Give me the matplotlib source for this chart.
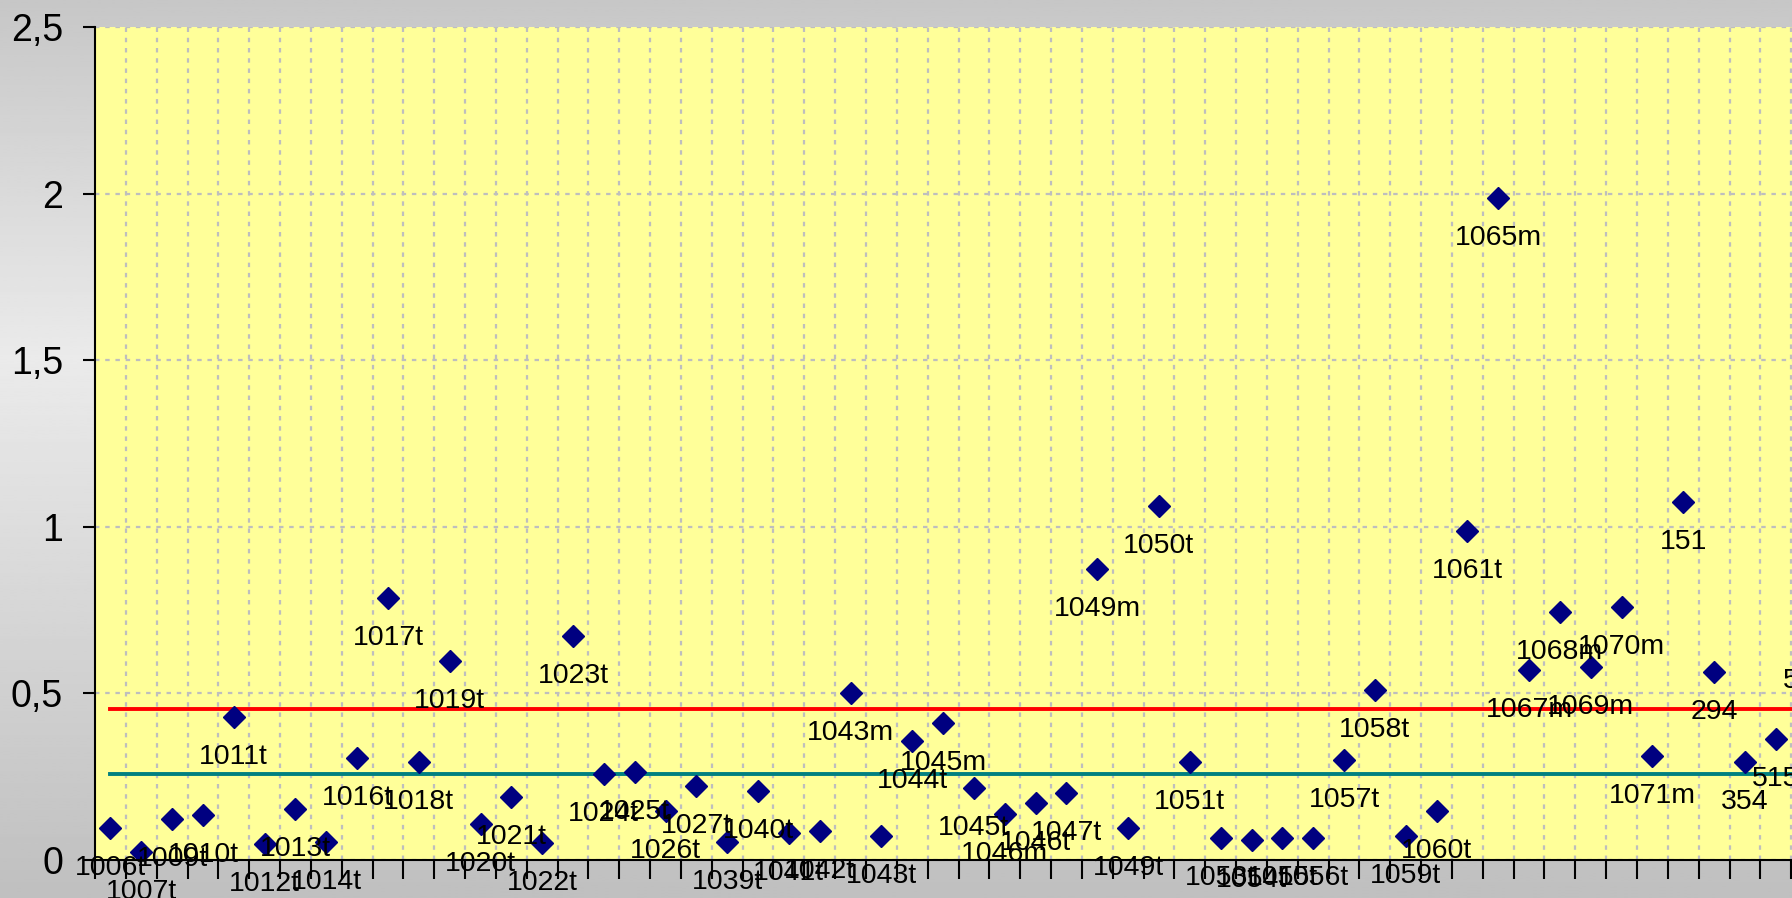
import matplotlib
matplotlib.use("Agg")
import matplotlib.pyplot as plt
from matplotlib.ticker import FuncFormatter, NullLocator
import numpy as np

plt.rcParams["font.family"] = ["Liberation Sans", "DejaVu Sans"]

# sample ids (data labels) and measured values
samples = ["1006t", "1007t", "1009t", "1010t", "1011t", "1012t", "1013t", "1014t",
           "1016t", "1017t", "1018t", "1019t", "1020t", "1021t", "1022t", "1023t",
           "1024t", "1025t", "1026t", "1027t", "1039t", "1040t", "1041t", "1042t",
           "1043m", "1043t", "1044t", "1045m", "1045t", "1046m", "1046t", "1047t",
           "1049m", "1049t", "1050t", "1051t", "1053t", "1054t", "1055t", "1056t",
           "1057t", "1058t", "1059t", "1060t", "1061t", "1065m", "1067m", "1068m",
           "1069m", "1070m", "1071m", "151", "294", "354", "515", "557"]
values = [0.095, 0.023, 0.123, 0.135, 0.428, 0.047, 0.153, 0.053,
          0.305, 0.785, 0.293, 0.598, 0.107, 0.188, 0.052, 0.673,
          0.258, 0.265, 0.147, 0.223, 0.053, 0.207, 0.082, 0.088,
          0.500, 0.072, 0.357, 0.410, 0.217, 0.137, 0.170, 0.200,
          0.873, 0.095, 1.062, 0.293, 0.067, 0.060, 0.067, 0.067,
          0.300, 0.510, 0.072, 0.147, 0.986, 1.988, 0.570, 0.745,
          0.580, 0.758, 0.312, 1.073, 0.563, 0.293, 0.363, 0.657]
red_level = 0.452
teal_level = 0.259
y_ticks = [0, 0.5, 1, 1.5, 2, 2.5]

n = len(samples)
x = np.arange(n)

W, H = 1792, 898
fig = plt.figure(figsize=(W / 100, H / 100), dpi=100)

# grey gradient background of the chart area
bg = fig.add_axes([0, 0, 1, 1], zorder=-10)
stops = np.array([0.0, 0.40, 1.0])
shades = np.array([0.78, 0.92, 0.75])
grad = np.interp(np.linspace(0, 1, 300), stops, shades)
bg.imshow(np.repeat(grad[:, None], 2, axis=1), cmap="gray", vmin=0, vmax=1,
          aspect="auto", extent=[0, 1, 0, 1])
bg.axis("off")

# plot area, wider than the figure: the right part is cut off like in the source
cat_px = 30.84
ax = fig.add_axes([95 / W, (H - 860) / H, n * cat_px / W, (860 - 27) / H])
ax.set_facecolor("#FFFF99")

ax.plot(x, [red_level] * n, color="#FF0000", lw=2.8, zorder=3)
ax.plot(x, [teal_level] * n, color="#008080", lw=2.8, zorder=3)
ax.plot(x, values, ls="none", marker="D", ms=11, color="#000080", zorder=4)

for xi, v, s in zip(x, values, samples):
    ax.annotate(s, (xi, v), xytext=(0, -47), textcoords="offset pixels",
                ha="center", va="baseline", fontsize=20.5, color="black",
                annotation_clip=False, zorder=5)

ax.set_xlim(-0.5, n - 0.5)
ax.set_ylim(0, 2.5)

# category boundaries carry the ticks and the vertical dashed lines
bounds = np.arange(-0.5, n, 1.0)
ax.set_xticks(bounds)
ax.set_xticklabels([])
ax.xaxis.set_minor_locator(NullLocator())
ax.yaxis.set_minor_locator(NullLocator())
ax.set_yticks(y_ticks)
ax.yaxis.set_major_formatter(FuncFormatter(lambda v, p: f"{v:g}".replace(".", ",")))

grid_style = dict(color="#BEBEBE", lw=1.6, ls=(0, (2, 2.6)))
ax.grid(True, axis="y", **grid_style, zorder=1)
ax.vlines(bounds[1:], 0, 2.5, zorder=1, **grid_style)
ax.set_axisbelow(True)

ax.tick_params(axis="x", direction="out", length=14, width=1.5, color="black")
ax.tick_params(axis="y", direction="out", length=9, width=1.5, color="black",
               labelsize=27, pad=14)

for side in ["top", "right"]:
    ax.spines[side].set_visible(False)
for side in ["left", "bottom"]:
    ax.spines[side].set_color("black")
    ax.spines[side].set_linewidth(1.5)
    ax.spines[side].set_zorder(6)

fig.savefig("out.png", dpi=100)
